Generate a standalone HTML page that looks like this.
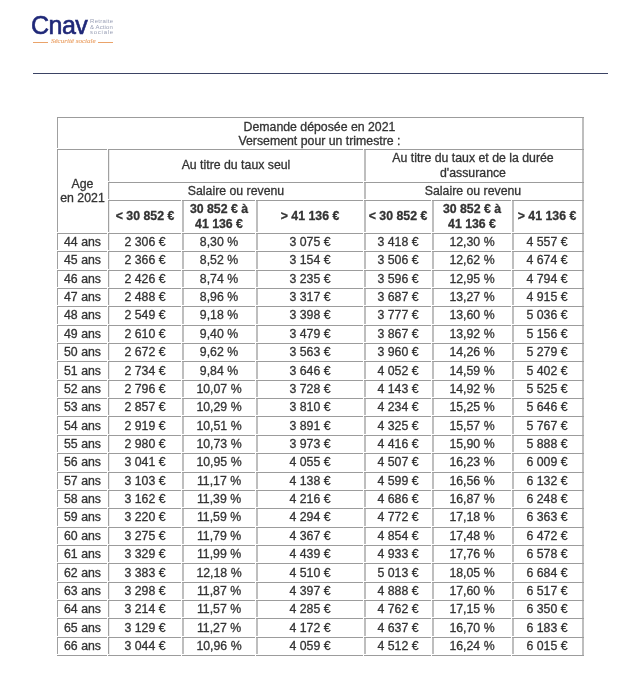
<!DOCTYPE html>
<html><head><meta charset="utf-8"><style>
html,body{margin:0;padding:0;background:#fff;}
body{width:642px;height:683px;position:relative;overflow:hidden;font-family:"Liberation Sans",sans-serif;}
.h{position:absolute;height:1px;background:#a4a4a4;}
.v{position:absolute;width:1px;background:#a4a4a4;}
.g{position:absolute;background:#fff;}
.t{position:absolute;text-align:center;white-space:nowrap;line-height:1.117;color:#333333;-webkit-text-stroke:0.3px #333333;}
.b{font-weight:bold;}
.logo{position:absolute;}
</style></head><body>
<div id="wrap" style="position:absolute;left:0;top:0;width:642px;height:683px;will-change:transform">
<div class="logo" style="left:31px;top:12.5px;font-size:25px;color:#1f2878;letter-spacing:-0.5px;line-height:1;-webkit-text-stroke:0.6px #1f2878">Cnav</div>
<div style="position:absolute;left:90px;top:19.3px;font-size:6px;line-height:5.5px;color:#9aa0b6;letter-spacing:0.3px">Retraite<br><span style="letter-spacing:0.1px">&amp; Action</span><br><span style="letter-spacing:0.75px">sociale</span></div>
<div style="position:absolute;left:33px;top:42px;width:15px;height:1px;background:#eaa36a"></div>
<div style="position:absolute;left:98px;top:42px;width:15px;height:1px;background:#eaa36a"></div>
<div style="position:absolute;left:51px;top:38px;font-family:'Liberation Serif',serif;font-style:italic;font-size:7px;color:#eaa36a;line-height:1;-webkit-text-stroke:0.15px #eaa36a">Sécurité sociale</div>
<div style="position:absolute;left:33px;top:73px;width:575px;height:1px;background:#3b4364"></div>
<div class="v" style="left:57px;top:117px;width:1px;height:539px;background:#a0a0a0"></div>
<div class="v" style="left:582px;top:117px;width:2px;height:539px;background:#bebebe"></div>
<div class="v" style="left:108px;top:149px;width:1px;height:507px;background:#a0a0a0"></div>
<div class="v" style="left:109px;top:149px;width:1px;height:507px;background:#ececec"></div>
<div class="v" style="left:364px;top:149px;width:2px;height:507px;background:#bebebe"></div>
<div class="v" style="left:182px;top:200px;width:2px;height:456px;background:#bebebe"></div>
<div class="v" style="left:256px;top:200px;width:2px;height:456px;background:#bebebe"></div>
<div class="v" style="left:432px;top:200px;width:2px;height:456px;background:#bebebe"></div>
<div class="v" style="left:512px;top:200px;width:2px;height:456px;background:#bebebe"></div>
<div class="h" style="left:57px;top:117px;width:527px;background:#9c9c9c"></div>
<div class="h" style="left:57px;top:149px;width:527px;background:#9c9c9c"></div>
<div class="h" style="left:108px;top:182px;width:476px;background:#9c9c9c"></div>
<div class="h" style="left:108px;top:200px;width:476px;background:#9c9c9c"></div>
<div class="h" style="left:57px;top:233px;width:527px;background:#9c9c9c"></div>
<div class="h" style="left:57px;top:251px;width:527px;background:#9c9c9c"></div>
<div class="h" style="left:57px;top:270px;width:527px;background:#9c9c9c"></div>
<div class="h" style="left:57px;top:288px;width:527px;background:#9c9c9c"></div>
<div class="h" style="left:57px;top:306px;width:527px;background:#9c9c9c"></div>
<div class="h" style="left:57px;top:325px;width:527px;background:#9c9c9c"></div>
<div class="h" style="left:57px;top:343px;width:527px;background:#9c9c9c"></div>
<div class="h" style="left:57px;top:361px;width:527px;background:#9c9c9c"></div>
<div class="h" style="left:57px;top:380px;width:527px;background:#9c9c9c"></div>
<div class="h" style="left:57px;top:398px;width:527px;background:#9c9c9c"></div>
<div class="h" style="left:57px;top:416px;width:527px;background:#9c9c9c"></div>
<div class="h" style="left:57px;top:435px;width:527px;background:#9c9c9c"></div>
<div class="h" style="left:57px;top:453px;width:527px;background:#9c9c9c"></div>
<div class="h" style="left:57px;top:472px;width:527px;background:#9c9c9c"></div>
<div class="h" style="left:57px;top:490px;width:527px;background:#9c9c9c"></div>
<div class="h" style="left:57px;top:508px;width:527px;background:#9c9c9c"></div>
<div class="h" style="left:57px;top:527px;width:527px;background:#9c9c9c"></div>
<div class="h" style="left:57px;top:545px;width:527px;background:#9c9c9c"></div>
<div class="h" style="left:57px;top:563px;width:527px;background:#9c9c9c"></div>
<div class="h" style="left:57px;top:582px;width:527px;background:#9c9c9c"></div>
<div class="h" style="left:57px;top:600px;width:527px;background:#9c9c9c"></div>
<div class="h" style="left:57px;top:618px;width:527px;background:#9c9c9c"></div>
<div class="h" style="left:57px;top:637px;width:527px;background:#9c9c9c"></div>
<div class="h" style="left:57px;top:655px;width:527px;background:#9c9c9c"></div>
<div class="g" style="left:57px;top:148px;width:1px;height:1px"></div>
<div class="g" style="left:107px;top:149px;width:1px;height:1px"></div>
<div class="g" style="left:363px;top:149px;width:1px;height:1px"></div>
<div class="g" style="left:108px;top:181px;width:1px;height:1px"></div>
<div class="g" style="left:363px;top:182px;width:1px;height:1px"></div>
<div class="g" style="left:364px;top:181px;width:2px;height:1px"></div>
<div class="g" style="left:108px;top:199px;width:1px;height:1px"></div>
<div class="g" style="left:363px;top:200px;width:1px;height:1px"></div>
<div class="g" style="left:364px;top:199px;width:2px;height:1px"></div>
<div class="g" style="left:181px;top:200px;width:1px;height:1px"></div>
<div class="g" style="left:255px;top:200px;width:1px;height:1px"></div>
<div class="g" style="left:431px;top:200px;width:1px;height:1px"></div>
<div class="g" style="left:511px;top:200px;width:1px;height:1px"></div>
<div class="g" style="left:57px;top:232px;width:1px;height:1px"></div>
<div class="g" style="left:107px;top:233px;width:1px;height:1px"></div>
<div class="g" style="left:108px;top:232px;width:1px;height:1px"></div>
<div class="g" style="left:363px;top:233px;width:1px;height:1px"></div>
<div class="g" style="left:364px;top:232px;width:2px;height:1px"></div>
<div class="g" style="left:181px;top:233px;width:1px;height:1px"></div>
<div class="g" style="left:182px;top:232px;width:2px;height:1px"></div>
<div class="g" style="left:255px;top:233px;width:1px;height:1px"></div>
<div class="g" style="left:256px;top:232px;width:2px;height:1px"></div>
<div class="g" style="left:431px;top:233px;width:1px;height:1px"></div>
<div class="g" style="left:432px;top:232px;width:2px;height:1px"></div>
<div class="g" style="left:511px;top:233px;width:1px;height:1px"></div>
<div class="g" style="left:512px;top:232px;width:2px;height:1px"></div>
<div class="g" style="left:57px;top:250px;width:1px;height:1px"></div>
<div class="g" style="left:107px;top:251px;width:1px;height:1px"></div>
<div class="g" style="left:108px;top:250px;width:1px;height:1px"></div>
<div class="g" style="left:363px;top:251px;width:1px;height:1px"></div>
<div class="g" style="left:364px;top:250px;width:2px;height:1px"></div>
<div class="g" style="left:181px;top:251px;width:1px;height:1px"></div>
<div class="g" style="left:182px;top:250px;width:2px;height:1px"></div>
<div class="g" style="left:255px;top:251px;width:1px;height:1px"></div>
<div class="g" style="left:256px;top:250px;width:2px;height:1px"></div>
<div class="g" style="left:431px;top:251px;width:1px;height:1px"></div>
<div class="g" style="left:432px;top:250px;width:2px;height:1px"></div>
<div class="g" style="left:511px;top:251px;width:1px;height:1px"></div>
<div class="g" style="left:512px;top:250px;width:2px;height:1px"></div>
<div class="g" style="left:57px;top:269px;width:1px;height:1px"></div>
<div class="g" style="left:107px;top:270px;width:1px;height:1px"></div>
<div class="g" style="left:108px;top:269px;width:1px;height:1px"></div>
<div class="g" style="left:363px;top:270px;width:1px;height:1px"></div>
<div class="g" style="left:364px;top:269px;width:2px;height:1px"></div>
<div class="g" style="left:181px;top:270px;width:1px;height:1px"></div>
<div class="g" style="left:182px;top:269px;width:2px;height:1px"></div>
<div class="g" style="left:255px;top:270px;width:1px;height:1px"></div>
<div class="g" style="left:256px;top:269px;width:2px;height:1px"></div>
<div class="g" style="left:431px;top:270px;width:1px;height:1px"></div>
<div class="g" style="left:432px;top:269px;width:2px;height:1px"></div>
<div class="g" style="left:511px;top:270px;width:1px;height:1px"></div>
<div class="g" style="left:512px;top:269px;width:2px;height:1px"></div>
<div class="g" style="left:57px;top:287px;width:1px;height:1px"></div>
<div class="g" style="left:107px;top:288px;width:1px;height:1px"></div>
<div class="g" style="left:108px;top:287px;width:1px;height:1px"></div>
<div class="g" style="left:363px;top:288px;width:1px;height:1px"></div>
<div class="g" style="left:364px;top:287px;width:2px;height:1px"></div>
<div class="g" style="left:181px;top:288px;width:1px;height:1px"></div>
<div class="g" style="left:182px;top:287px;width:2px;height:1px"></div>
<div class="g" style="left:255px;top:288px;width:1px;height:1px"></div>
<div class="g" style="left:256px;top:287px;width:2px;height:1px"></div>
<div class="g" style="left:431px;top:288px;width:1px;height:1px"></div>
<div class="g" style="left:432px;top:287px;width:2px;height:1px"></div>
<div class="g" style="left:511px;top:288px;width:1px;height:1px"></div>
<div class="g" style="left:512px;top:287px;width:2px;height:1px"></div>
<div class="g" style="left:57px;top:305px;width:1px;height:1px"></div>
<div class="g" style="left:107px;top:306px;width:1px;height:1px"></div>
<div class="g" style="left:108px;top:305px;width:1px;height:1px"></div>
<div class="g" style="left:363px;top:306px;width:1px;height:1px"></div>
<div class="g" style="left:364px;top:305px;width:2px;height:1px"></div>
<div class="g" style="left:181px;top:306px;width:1px;height:1px"></div>
<div class="g" style="left:182px;top:305px;width:2px;height:1px"></div>
<div class="g" style="left:255px;top:306px;width:1px;height:1px"></div>
<div class="g" style="left:256px;top:305px;width:2px;height:1px"></div>
<div class="g" style="left:431px;top:306px;width:1px;height:1px"></div>
<div class="g" style="left:432px;top:305px;width:2px;height:1px"></div>
<div class="g" style="left:511px;top:306px;width:1px;height:1px"></div>
<div class="g" style="left:512px;top:305px;width:2px;height:1px"></div>
<div class="g" style="left:57px;top:324px;width:1px;height:1px"></div>
<div class="g" style="left:107px;top:325px;width:1px;height:1px"></div>
<div class="g" style="left:108px;top:324px;width:1px;height:1px"></div>
<div class="g" style="left:363px;top:325px;width:1px;height:1px"></div>
<div class="g" style="left:364px;top:324px;width:2px;height:1px"></div>
<div class="g" style="left:181px;top:325px;width:1px;height:1px"></div>
<div class="g" style="left:182px;top:324px;width:2px;height:1px"></div>
<div class="g" style="left:255px;top:325px;width:1px;height:1px"></div>
<div class="g" style="left:256px;top:324px;width:2px;height:1px"></div>
<div class="g" style="left:431px;top:325px;width:1px;height:1px"></div>
<div class="g" style="left:432px;top:324px;width:2px;height:1px"></div>
<div class="g" style="left:511px;top:325px;width:1px;height:1px"></div>
<div class="g" style="left:512px;top:324px;width:2px;height:1px"></div>
<div class="g" style="left:57px;top:342px;width:1px;height:1px"></div>
<div class="g" style="left:107px;top:343px;width:1px;height:1px"></div>
<div class="g" style="left:108px;top:342px;width:1px;height:1px"></div>
<div class="g" style="left:363px;top:343px;width:1px;height:1px"></div>
<div class="g" style="left:364px;top:342px;width:2px;height:1px"></div>
<div class="g" style="left:181px;top:343px;width:1px;height:1px"></div>
<div class="g" style="left:182px;top:342px;width:2px;height:1px"></div>
<div class="g" style="left:255px;top:343px;width:1px;height:1px"></div>
<div class="g" style="left:256px;top:342px;width:2px;height:1px"></div>
<div class="g" style="left:431px;top:343px;width:1px;height:1px"></div>
<div class="g" style="left:432px;top:342px;width:2px;height:1px"></div>
<div class="g" style="left:511px;top:343px;width:1px;height:1px"></div>
<div class="g" style="left:512px;top:342px;width:2px;height:1px"></div>
<div class="g" style="left:57px;top:360px;width:1px;height:1px"></div>
<div class="g" style="left:107px;top:361px;width:1px;height:1px"></div>
<div class="g" style="left:108px;top:360px;width:1px;height:1px"></div>
<div class="g" style="left:363px;top:361px;width:1px;height:1px"></div>
<div class="g" style="left:364px;top:360px;width:2px;height:1px"></div>
<div class="g" style="left:181px;top:361px;width:1px;height:1px"></div>
<div class="g" style="left:182px;top:360px;width:2px;height:1px"></div>
<div class="g" style="left:255px;top:361px;width:1px;height:1px"></div>
<div class="g" style="left:256px;top:360px;width:2px;height:1px"></div>
<div class="g" style="left:431px;top:361px;width:1px;height:1px"></div>
<div class="g" style="left:432px;top:360px;width:2px;height:1px"></div>
<div class="g" style="left:511px;top:361px;width:1px;height:1px"></div>
<div class="g" style="left:512px;top:360px;width:2px;height:1px"></div>
<div class="g" style="left:57px;top:379px;width:1px;height:1px"></div>
<div class="g" style="left:107px;top:380px;width:1px;height:1px"></div>
<div class="g" style="left:108px;top:379px;width:1px;height:1px"></div>
<div class="g" style="left:363px;top:380px;width:1px;height:1px"></div>
<div class="g" style="left:364px;top:379px;width:2px;height:1px"></div>
<div class="g" style="left:181px;top:380px;width:1px;height:1px"></div>
<div class="g" style="left:182px;top:379px;width:2px;height:1px"></div>
<div class="g" style="left:255px;top:380px;width:1px;height:1px"></div>
<div class="g" style="left:256px;top:379px;width:2px;height:1px"></div>
<div class="g" style="left:431px;top:380px;width:1px;height:1px"></div>
<div class="g" style="left:432px;top:379px;width:2px;height:1px"></div>
<div class="g" style="left:511px;top:380px;width:1px;height:1px"></div>
<div class="g" style="left:512px;top:379px;width:2px;height:1px"></div>
<div class="g" style="left:57px;top:397px;width:1px;height:1px"></div>
<div class="g" style="left:107px;top:398px;width:1px;height:1px"></div>
<div class="g" style="left:108px;top:397px;width:1px;height:1px"></div>
<div class="g" style="left:363px;top:398px;width:1px;height:1px"></div>
<div class="g" style="left:364px;top:397px;width:2px;height:1px"></div>
<div class="g" style="left:181px;top:398px;width:1px;height:1px"></div>
<div class="g" style="left:182px;top:397px;width:2px;height:1px"></div>
<div class="g" style="left:255px;top:398px;width:1px;height:1px"></div>
<div class="g" style="left:256px;top:397px;width:2px;height:1px"></div>
<div class="g" style="left:431px;top:398px;width:1px;height:1px"></div>
<div class="g" style="left:432px;top:397px;width:2px;height:1px"></div>
<div class="g" style="left:511px;top:398px;width:1px;height:1px"></div>
<div class="g" style="left:512px;top:397px;width:2px;height:1px"></div>
<div class="g" style="left:57px;top:415px;width:1px;height:1px"></div>
<div class="g" style="left:107px;top:416px;width:1px;height:1px"></div>
<div class="g" style="left:108px;top:415px;width:1px;height:1px"></div>
<div class="g" style="left:363px;top:416px;width:1px;height:1px"></div>
<div class="g" style="left:364px;top:415px;width:2px;height:1px"></div>
<div class="g" style="left:181px;top:416px;width:1px;height:1px"></div>
<div class="g" style="left:182px;top:415px;width:2px;height:1px"></div>
<div class="g" style="left:255px;top:416px;width:1px;height:1px"></div>
<div class="g" style="left:256px;top:415px;width:2px;height:1px"></div>
<div class="g" style="left:431px;top:416px;width:1px;height:1px"></div>
<div class="g" style="left:432px;top:415px;width:2px;height:1px"></div>
<div class="g" style="left:511px;top:416px;width:1px;height:1px"></div>
<div class="g" style="left:512px;top:415px;width:2px;height:1px"></div>
<div class="g" style="left:57px;top:434px;width:1px;height:1px"></div>
<div class="g" style="left:107px;top:435px;width:1px;height:1px"></div>
<div class="g" style="left:108px;top:434px;width:1px;height:1px"></div>
<div class="g" style="left:363px;top:435px;width:1px;height:1px"></div>
<div class="g" style="left:364px;top:434px;width:2px;height:1px"></div>
<div class="g" style="left:181px;top:435px;width:1px;height:1px"></div>
<div class="g" style="left:182px;top:434px;width:2px;height:1px"></div>
<div class="g" style="left:255px;top:435px;width:1px;height:1px"></div>
<div class="g" style="left:256px;top:434px;width:2px;height:1px"></div>
<div class="g" style="left:431px;top:435px;width:1px;height:1px"></div>
<div class="g" style="left:432px;top:434px;width:2px;height:1px"></div>
<div class="g" style="left:511px;top:435px;width:1px;height:1px"></div>
<div class="g" style="left:512px;top:434px;width:2px;height:1px"></div>
<div class="g" style="left:57px;top:452px;width:1px;height:1px"></div>
<div class="g" style="left:107px;top:453px;width:1px;height:1px"></div>
<div class="g" style="left:108px;top:452px;width:1px;height:1px"></div>
<div class="g" style="left:363px;top:453px;width:1px;height:1px"></div>
<div class="g" style="left:364px;top:452px;width:2px;height:1px"></div>
<div class="g" style="left:181px;top:453px;width:1px;height:1px"></div>
<div class="g" style="left:182px;top:452px;width:2px;height:1px"></div>
<div class="g" style="left:255px;top:453px;width:1px;height:1px"></div>
<div class="g" style="left:256px;top:452px;width:2px;height:1px"></div>
<div class="g" style="left:431px;top:453px;width:1px;height:1px"></div>
<div class="g" style="left:432px;top:452px;width:2px;height:1px"></div>
<div class="g" style="left:511px;top:453px;width:1px;height:1px"></div>
<div class="g" style="left:512px;top:452px;width:2px;height:1px"></div>
<div class="g" style="left:57px;top:471px;width:1px;height:1px"></div>
<div class="g" style="left:107px;top:472px;width:1px;height:1px"></div>
<div class="g" style="left:108px;top:471px;width:1px;height:1px"></div>
<div class="g" style="left:363px;top:472px;width:1px;height:1px"></div>
<div class="g" style="left:364px;top:471px;width:2px;height:1px"></div>
<div class="g" style="left:181px;top:472px;width:1px;height:1px"></div>
<div class="g" style="left:182px;top:471px;width:2px;height:1px"></div>
<div class="g" style="left:255px;top:472px;width:1px;height:1px"></div>
<div class="g" style="left:256px;top:471px;width:2px;height:1px"></div>
<div class="g" style="left:431px;top:472px;width:1px;height:1px"></div>
<div class="g" style="left:432px;top:471px;width:2px;height:1px"></div>
<div class="g" style="left:511px;top:472px;width:1px;height:1px"></div>
<div class="g" style="left:512px;top:471px;width:2px;height:1px"></div>
<div class="g" style="left:57px;top:489px;width:1px;height:1px"></div>
<div class="g" style="left:107px;top:490px;width:1px;height:1px"></div>
<div class="g" style="left:108px;top:489px;width:1px;height:1px"></div>
<div class="g" style="left:363px;top:490px;width:1px;height:1px"></div>
<div class="g" style="left:364px;top:489px;width:2px;height:1px"></div>
<div class="g" style="left:181px;top:490px;width:1px;height:1px"></div>
<div class="g" style="left:182px;top:489px;width:2px;height:1px"></div>
<div class="g" style="left:255px;top:490px;width:1px;height:1px"></div>
<div class="g" style="left:256px;top:489px;width:2px;height:1px"></div>
<div class="g" style="left:431px;top:490px;width:1px;height:1px"></div>
<div class="g" style="left:432px;top:489px;width:2px;height:1px"></div>
<div class="g" style="left:511px;top:490px;width:1px;height:1px"></div>
<div class="g" style="left:512px;top:489px;width:2px;height:1px"></div>
<div class="g" style="left:57px;top:507px;width:1px;height:1px"></div>
<div class="g" style="left:107px;top:508px;width:1px;height:1px"></div>
<div class="g" style="left:108px;top:507px;width:1px;height:1px"></div>
<div class="g" style="left:363px;top:508px;width:1px;height:1px"></div>
<div class="g" style="left:364px;top:507px;width:2px;height:1px"></div>
<div class="g" style="left:181px;top:508px;width:1px;height:1px"></div>
<div class="g" style="left:182px;top:507px;width:2px;height:1px"></div>
<div class="g" style="left:255px;top:508px;width:1px;height:1px"></div>
<div class="g" style="left:256px;top:507px;width:2px;height:1px"></div>
<div class="g" style="left:431px;top:508px;width:1px;height:1px"></div>
<div class="g" style="left:432px;top:507px;width:2px;height:1px"></div>
<div class="g" style="left:511px;top:508px;width:1px;height:1px"></div>
<div class="g" style="left:512px;top:507px;width:2px;height:1px"></div>
<div class="g" style="left:57px;top:526px;width:1px;height:1px"></div>
<div class="g" style="left:107px;top:527px;width:1px;height:1px"></div>
<div class="g" style="left:108px;top:526px;width:1px;height:1px"></div>
<div class="g" style="left:363px;top:527px;width:1px;height:1px"></div>
<div class="g" style="left:364px;top:526px;width:2px;height:1px"></div>
<div class="g" style="left:181px;top:527px;width:1px;height:1px"></div>
<div class="g" style="left:182px;top:526px;width:2px;height:1px"></div>
<div class="g" style="left:255px;top:527px;width:1px;height:1px"></div>
<div class="g" style="left:256px;top:526px;width:2px;height:1px"></div>
<div class="g" style="left:431px;top:527px;width:1px;height:1px"></div>
<div class="g" style="left:432px;top:526px;width:2px;height:1px"></div>
<div class="g" style="left:511px;top:527px;width:1px;height:1px"></div>
<div class="g" style="left:512px;top:526px;width:2px;height:1px"></div>
<div class="g" style="left:57px;top:544px;width:1px;height:1px"></div>
<div class="g" style="left:107px;top:545px;width:1px;height:1px"></div>
<div class="g" style="left:108px;top:544px;width:1px;height:1px"></div>
<div class="g" style="left:363px;top:545px;width:1px;height:1px"></div>
<div class="g" style="left:364px;top:544px;width:2px;height:1px"></div>
<div class="g" style="left:181px;top:545px;width:1px;height:1px"></div>
<div class="g" style="left:182px;top:544px;width:2px;height:1px"></div>
<div class="g" style="left:255px;top:545px;width:1px;height:1px"></div>
<div class="g" style="left:256px;top:544px;width:2px;height:1px"></div>
<div class="g" style="left:431px;top:545px;width:1px;height:1px"></div>
<div class="g" style="left:432px;top:544px;width:2px;height:1px"></div>
<div class="g" style="left:511px;top:545px;width:1px;height:1px"></div>
<div class="g" style="left:512px;top:544px;width:2px;height:1px"></div>
<div class="g" style="left:57px;top:562px;width:1px;height:1px"></div>
<div class="g" style="left:107px;top:563px;width:1px;height:1px"></div>
<div class="g" style="left:108px;top:562px;width:1px;height:1px"></div>
<div class="g" style="left:363px;top:563px;width:1px;height:1px"></div>
<div class="g" style="left:364px;top:562px;width:2px;height:1px"></div>
<div class="g" style="left:181px;top:563px;width:1px;height:1px"></div>
<div class="g" style="left:182px;top:562px;width:2px;height:1px"></div>
<div class="g" style="left:255px;top:563px;width:1px;height:1px"></div>
<div class="g" style="left:256px;top:562px;width:2px;height:1px"></div>
<div class="g" style="left:431px;top:563px;width:1px;height:1px"></div>
<div class="g" style="left:432px;top:562px;width:2px;height:1px"></div>
<div class="g" style="left:511px;top:563px;width:1px;height:1px"></div>
<div class="g" style="left:512px;top:562px;width:2px;height:1px"></div>
<div class="g" style="left:57px;top:581px;width:1px;height:1px"></div>
<div class="g" style="left:107px;top:582px;width:1px;height:1px"></div>
<div class="g" style="left:108px;top:581px;width:1px;height:1px"></div>
<div class="g" style="left:363px;top:582px;width:1px;height:1px"></div>
<div class="g" style="left:364px;top:581px;width:2px;height:1px"></div>
<div class="g" style="left:181px;top:582px;width:1px;height:1px"></div>
<div class="g" style="left:182px;top:581px;width:2px;height:1px"></div>
<div class="g" style="left:255px;top:582px;width:1px;height:1px"></div>
<div class="g" style="left:256px;top:581px;width:2px;height:1px"></div>
<div class="g" style="left:431px;top:582px;width:1px;height:1px"></div>
<div class="g" style="left:432px;top:581px;width:2px;height:1px"></div>
<div class="g" style="left:511px;top:582px;width:1px;height:1px"></div>
<div class="g" style="left:512px;top:581px;width:2px;height:1px"></div>
<div class="g" style="left:57px;top:599px;width:1px;height:1px"></div>
<div class="g" style="left:107px;top:600px;width:1px;height:1px"></div>
<div class="g" style="left:108px;top:599px;width:1px;height:1px"></div>
<div class="g" style="left:363px;top:600px;width:1px;height:1px"></div>
<div class="g" style="left:364px;top:599px;width:2px;height:1px"></div>
<div class="g" style="left:181px;top:600px;width:1px;height:1px"></div>
<div class="g" style="left:182px;top:599px;width:2px;height:1px"></div>
<div class="g" style="left:255px;top:600px;width:1px;height:1px"></div>
<div class="g" style="left:256px;top:599px;width:2px;height:1px"></div>
<div class="g" style="left:431px;top:600px;width:1px;height:1px"></div>
<div class="g" style="left:432px;top:599px;width:2px;height:1px"></div>
<div class="g" style="left:511px;top:600px;width:1px;height:1px"></div>
<div class="g" style="left:512px;top:599px;width:2px;height:1px"></div>
<div class="g" style="left:57px;top:617px;width:1px;height:1px"></div>
<div class="g" style="left:107px;top:618px;width:1px;height:1px"></div>
<div class="g" style="left:108px;top:617px;width:1px;height:1px"></div>
<div class="g" style="left:363px;top:618px;width:1px;height:1px"></div>
<div class="g" style="left:364px;top:617px;width:2px;height:1px"></div>
<div class="g" style="left:181px;top:618px;width:1px;height:1px"></div>
<div class="g" style="left:182px;top:617px;width:2px;height:1px"></div>
<div class="g" style="left:255px;top:618px;width:1px;height:1px"></div>
<div class="g" style="left:256px;top:617px;width:2px;height:1px"></div>
<div class="g" style="left:431px;top:618px;width:1px;height:1px"></div>
<div class="g" style="left:432px;top:617px;width:2px;height:1px"></div>
<div class="g" style="left:511px;top:618px;width:1px;height:1px"></div>
<div class="g" style="left:512px;top:617px;width:2px;height:1px"></div>
<div class="g" style="left:57px;top:636px;width:1px;height:1px"></div>
<div class="g" style="left:107px;top:637px;width:1px;height:1px"></div>
<div class="g" style="left:108px;top:636px;width:1px;height:1px"></div>
<div class="g" style="left:363px;top:637px;width:1px;height:1px"></div>
<div class="g" style="left:364px;top:636px;width:2px;height:1px"></div>
<div class="g" style="left:181px;top:637px;width:1px;height:1px"></div>
<div class="g" style="left:182px;top:636px;width:2px;height:1px"></div>
<div class="g" style="left:255px;top:637px;width:1px;height:1px"></div>
<div class="g" style="left:256px;top:636px;width:2px;height:1px"></div>
<div class="g" style="left:431px;top:637px;width:1px;height:1px"></div>
<div class="g" style="left:432px;top:636px;width:2px;height:1px"></div>
<div class="g" style="left:511px;top:637px;width:1px;height:1px"></div>
<div class="g" style="left:512px;top:636px;width:2px;height:1px"></div>
<div class="g" style="left:57px;top:654px;width:1px;height:1px"></div>
<div class="g" style="left:107px;top:655px;width:1px;height:1px"></div>
<div class="g" style="left:108px;top:654px;width:1px;height:1px"></div>
<div class="g" style="left:363px;top:655px;width:1px;height:1px"></div>
<div class="g" style="left:364px;top:654px;width:2px;height:1px"></div>
<div class="g" style="left:181px;top:655px;width:1px;height:1px"></div>
<div class="g" style="left:182px;top:654px;width:2px;height:1px"></div>
<div class="g" style="left:255px;top:655px;width:1px;height:1px"></div>
<div class="g" style="left:256px;top:654px;width:2px;height:1px"></div>
<div class="g" style="left:431px;top:655px;width:1px;height:1px"></div>
<div class="g" style="left:432px;top:654px;width:2px;height:1px"></div>
<div class="g" style="left:511px;top:655px;width:1px;height:1px"></div>
<div class="g" style="left:512px;top:654px;width:2px;height:1px"></div>
<div class="t" style="left:169.50px;top:120.87px;width:300px;font-size:12.3px">Demande déposée en 2021</div>
<div class="t" style="left:169.50px;top:134.87px;width:300px;font-size:12.3px">Versement pour un trimestre :</div>
<div class="t" style="left:86.00px;top:158.57px;width:300px;font-size:12.3px">Au titre du taux seul</div>
<div class="t" style="left:323.00px;top:151.67px;width:300px;font-size:12.3px">Au titre du taux et de la durée</div>
<div class="t" style="left:323.00px;top:166.67px;width:300px;font-size:12.3px">d'assurance</div>
<div class="t" style="left:86.00px;top:185.37px;width:300px;font-size:12.3px">Salaire ou revenu</div>
<div class="t" style="left:323.00px;top:185.37px;width:300px;font-size:12.3px">Salaire ou revenu</div>
<div class="t" style="left:-67.50px;top:178.37px;width:300px;font-size:12.3px">Age</div>
<div class="t" style="left:-67.50px;top:191.77px;width:300px;font-size:12.3px">en 2021</div>
<div class="t b" style="left:-5.00px;top:209.57px;width:300px;font-size:12.3px">&lt; 30 852 €</div>
<div class="t b" style="left:69.00px;top:202.87px;width:300px;font-size:12.3px">30 852 € à</div>
<div class="t b" style="left:69.00px;top:217.67px;width:300px;font-size:12.3px">41 136 €</div>
<div class="t b" style="left:160.00px;top:209.57px;width:300px;font-size:12.3px">&gt; 41 136 €</div>
<div class="t b" style="left:248.00px;top:209.57px;width:300px;font-size:12.3px">&lt; 30 852 €</div>
<div class="t b" style="left:322.00px;top:202.87px;width:300px;font-size:12.3px">30 852 € à</div>
<div class="t b" style="left:322.00px;top:217.67px;width:300px;font-size:12.3px">41 136 €</div>
<div class="t b" style="left:397.00px;top:209.57px;width:300px;font-size:12.3px">&gt; 41 136 €</div>
<div class="t" style="left:-67.50px;top:235.97px;width:300px;font-size:12.3px">44 ans</div>
<div class="t" style="left:-5.00px;top:235.97px;width:300px;font-size:12.3px">2 306 €</div>
<div class="t" style="left:69.00px;top:235.97px;width:300px;font-size:12.3px">8,30 %</div>
<div class="t" style="left:160.00px;top:235.97px;width:300px;font-size:12.3px">3 075 €</div>
<div class="t" style="left:248.00px;top:235.97px;width:300px;font-size:12.3px">3 418 €</div>
<div class="t" style="left:322.00px;top:235.97px;width:300px;font-size:12.3px">12,30 %</div>
<div class="t" style="left:397.00px;top:235.97px;width:300px;font-size:12.3px">4 557 €</div>
<div class="t" style="left:-67.50px;top:254.33px;width:300px;font-size:12.3px">45 ans</div>
<div class="t" style="left:-5.00px;top:254.33px;width:300px;font-size:12.3px">2 366 €</div>
<div class="t" style="left:69.00px;top:254.33px;width:300px;font-size:12.3px">8,52 %</div>
<div class="t" style="left:160.00px;top:254.33px;width:300px;font-size:12.3px">3 154 €</div>
<div class="t" style="left:248.00px;top:254.33px;width:300px;font-size:12.3px">3 506 €</div>
<div class="t" style="left:322.00px;top:254.33px;width:300px;font-size:12.3px">12,62 %</div>
<div class="t" style="left:397.00px;top:254.33px;width:300px;font-size:12.3px">4 674 €</div>
<div class="t" style="left:-67.50px;top:272.70px;width:300px;font-size:12.3px">46 ans</div>
<div class="t" style="left:-5.00px;top:272.70px;width:300px;font-size:12.3px">2 426 €</div>
<div class="t" style="left:69.00px;top:272.70px;width:300px;font-size:12.3px">8,74 %</div>
<div class="t" style="left:160.00px;top:272.70px;width:300px;font-size:12.3px">3 235 €</div>
<div class="t" style="left:248.00px;top:272.70px;width:300px;font-size:12.3px">3 596 €</div>
<div class="t" style="left:322.00px;top:272.70px;width:300px;font-size:12.3px">12,95 %</div>
<div class="t" style="left:397.00px;top:272.70px;width:300px;font-size:12.3px">4 794 €</div>
<div class="t" style="left:-67.50px;top:291.06px;width:300px;font-size:12.3px">47 ans</div>
<div class="t" style="left:-5.00px;top:291.06px;width:300px;font-size:12.3px">2 488 €</div>
<div class="t" style="left:69.00px;top:291.06px;width:300px;font-size:12.3px">8,96 %</div>
<div class="t" style="left:160.00px;top:291.06px;width:300px;font-size:12.3px">3 317 €</div>
<div class="t" style="left:248.00px;top:291.06px;width:300px;font-size:12.3px">3 687 €</div>
<div class="t" style="left:322.00px;top:291.06px;width:300px;font-size:12.3px">13,27 %</div>
<div class="t" style="left:397.00px;top:291.06px;width:300px;font-size:12.3px">4 915 €</div>
<div class="t" style="left:-67.50px;top:309.42px;width:300px;font-size:12.3px">48 ans</div>
<div class="t" style="left:-5.00px;top:309.42px;width:300px;font-size:12.3px">2 549 €</div>
<div class="t" style="left:69.00px;top:309.42px;width:300px;font-size:12.3px">9,18 %</div>
<div class="t" style="left:160.00px;top:309.42px;width:300px;font-size:12.3px">3 398 €</div>
<div class="t" style="left:248.00px;top:309.42px;width:300px;font-size:12.3px">3 777 €</div>
<div class="t" style="left:322.00px;top:309.42px;width:300px;font-size:12.3px">13,60 %</div>
<div class="t" style="left:397.00px;top:309.42px;width:300px;font-size:12.3px">5 036 €</div>
<div class="t" style="left:-67.50px;top:327.79px;width:300px;font-size:12.3px">49 ans</div>
<div class="t" style="left:-5.00px;top:327.79px;width:300px;font-size:12.3px">2 610 €</div>
<div class="t" style="left:69.00px;top:327.79px;width:300px;font-size:12.3px">9,40 %</div>
<div class="t" style="left:160.00px;top:327.79px;width:300px;font-size:12.3px">3 479 €</div>
<div class="t" style="left:248.00px;top:327.79px;width:300px;font-size:12.3px">3 867 €</div>
<div class="t" style="left:322.00px;top:327.79px;width:300px;font-size:12.3px">13,92 %</div>
<div class="t" style="left:397.00px;top:327.79px;width:300px;font-size:12.3px">5 156 €</div>
<div class="t" style="left:-67.50px;top:346.15px;width:300px;font-size:12.3px">50 ans</div>
<div class="t" style="left:-5.00px;top:346.15px;width:300px;font-size:12.3px">2 672 €</div>
<div class="t" style="left:69.00px;top:346.15px;width:300px;font-size:12.3px">9,62 %</div>
<div class="t" style="left:160.00px;top:346.15px;width:300px;font-size:12.3px">3 563 €</div>
<div class="t" style="left:248.00px;top:346.15px;width:300px;font-size:12.3px">3 960 €</div>
<div class="t" style="left:322.00px;top:346.15px;width:300px;font-size:12.3px">14,26 %</div>
<div class="t" style="left:397.00px;top:346.15px;width:300px;font-size:12.3px">5 279 €</div>
<div class="t" style="left:-67.50px;top:364.52px;width:300px;font-size:12.3px">51 ans</div>
<div class="t" style="left:-5.00px;top:364.52px;width:300px;font-size:12.3px">2 734 €</div>
<div class="t" style="left:69.00px;top:364.52px;width:300px;font-size:12.3px">9,84 %</div>
<div class="t" style="left:160.00px;top:364.52px;width:300px;font-size:12.3px">3 646 €</div>
<div class="t" style="left:248.00px;top:364.52px;width:300px;font-size:12.3px">4 052 €</div>
<div class="t" style="left:322.00px;top:364.52px;width:300px;font-size:12.3px">14,59 %</div>
<div class="t" style="left:397.00px;top:364.52px;width:300px;font-size:12.3px">5 402 €</div>
<div class="t" style="left:-67.50px;top:382.88px;width:300px;font-size:12.3px">52 ans</div>
<div class="t" style="left:-5.00px;top:382.88px;width:300px;font-size:12.3px">2 796 €</div>
<div class="t" style="left:69.00px;top:382.88px;width:300px;font-size:12.3px">10,07 %</div>
<div class="t" style="left:160.00px;top:382.88px;width:300px;font-size:12.3px">3 728 €</div>
<div class="t" style="left:248.00px;top:382.88px;width:300px;font-size:12.3px">4 143 €</div>
<div class="t" style="left:322.00px;top:382.88px;width:300px;font-size:12.3px">14,92 %</div>
<div class="t" style="left:397.00px;top:382.88px;width:300px;font-size:12.3px">5 525 €</div>
<div class="t" style="left:-67.50px;top:401.24px;width:300px;font-size:12.3px">53 ans</div>
<div class="t" style="left:-5.00px;top:401.24px;width:300px;font-size:12.3px">2 857 €</div>
<div class="t" style="left:69.00px;top:401.24px;width:300px;font-size:12.3px">10,29 %</div>
<div class="t" style="left:160.00px;top:401.24px;width:300px;font-size:12.3px">3 810 €</div>
<div class="t" style="left:248.00px;top:401.24px;width:300px;font-size:12.3px">4 234 €</div>
<div class="t" style="left:322.00px;top:401.24px;width:300px;font-size:12.3px">15,25 %</div>
<div class="t" style="left:397.00px;top:401.24px;width:300px;font-size:12.3px">5 646 €</div>
<div class="t" style="left:-67.50px;top:419.61px;width:300px;font-size:12.3px">54 ans</div>
<div class="t" style="left:-5.00px;top:419.61px;width:300px;font-size:12.3px">2 919 €</div>
<div class="t" style="left:69.00px;top:419.61px;width:300px;font-size:12.3px">10,51 %</div>
<div class="t" style="left:160.00px;top:419.61px;width:300px;font-size:12.3px">3 891 €</div>
<div class="t" style="left:248.00px;top:419.61px;width:300px;font-size:12.3px">4 325 €</div>
<div class="t" style="left:322.00px;top:419.61px;width:300px;font-size:12.3px">15,57 %</div>
<div class="t" style="left:397.00px;top:419.61px;width:300px;font-size:12.3px">5 767 €</div>
<div class="t" style="left:-67.50px;top:437.97px;width:300px;font-size:12.3px">55 ans</div>
<div class="t" style="left:-5.00px;top:437.97px;width:300px;font-size:12.3px">2 980 €</div>
<div class="t" style="left:69.00px;top:437.97px;width:300px;font-size:12.3px">10,73 %</div>
<div class="t" style="left:160.00px;top:437.97px;width:300px;font-size:12.3px">3 973 €</div>
<div class="t" style="left:248.00px;top:437.97px;width:300px;font-size:12.3px">4 416 €</div>
<div class="t" style="left:322.00px;top:437.97px;width:300px;font-size:12.3px">15,90 %</div>
<div class="t" style="left:397.00px;top:437.97px;width:300px;font-size:12.3px">5 888 €</div>
<div class="t" style="left:-67.50px;top:456.34px;width:300px;font-size:12.3px">56 ans</div>
<div class="t" style="left:-5.00px;top:456.34px;width:300px;font-size:12.3px">3 041 €</div>
<div class="t" style="left:69.00px;top:456.34px;width:300px;font-size:12.3px">10,95 %</div>
<div class="t" style="left:160.00px;top:456.34px;width:300px;font-size:12.3px">4 055 €</div>
<div class="t" style="left:248.00px;top:456.34px;width:300px;font-size:12.3px">4 507 €</div>
<div class="t" style="left:322.00px;top:456.34px;width:300px;font-size:12.3px">16,23 %</div>
<div class="t" style="left:397.00px;top:456.34px;width:300px;font-size:12.3px">6 009 €</div>
<div class="t" style="left:-67.50px;top:474.70px;width:300px;font-size:12.3px">57 ans</div>
<div class="t" style="left:-5.00px;top:474.70px;width:300px;font-size:12.3px">3 103 €</div>
<div class="t" style="left:69.00px;top:474.70px;width:300px;font-size:12.3px">11,17 %</div>
<div class="t" style="left:160.00px;top:474.70px;width:300px;font-size:12.3px">4 138 €</div>
<div class="t" style="left:248.00px;top:474.70px;width:300px;font-size:12.3px">4 599 €</div>
<div class="t" style="left:322.00px;top:474.70px;width:300px;font-size:12.3px">16,56 %</div>
<div class="t" style="left:397.00px;top:474.70px;width:300px;font-size:12.3px">6 132 €</div>
<div class="t" style="left:-67.50px;top:493.06px;width:300px;font-size:12.3px">58 ans</div>
<div class="t" style="left:-5.00px;top:493.06px;width:300px;font-size:12.3px">3 162 €</div>
<div class="t" style="left:69.00px;top:493.06px;width:300px;font-size:12.3px">11,39 %</div>
<div class="t" style="left:160.00px;top:493.06px;width:300px;font-size:12.3px">4 216 €</div>
<div class="t" style="left:248.00px;top:493.06px;width:300px;font-size:12.3px">4 686 €</div>
<div class="t" style="left:322.00px;top:493.06px;width:300px;font-size:12.3px">16,87 %</div>
<div class="t" style="left:397.00px;top:493.06px;width:300px;font-size:12.3px">6 248 €</div>
<div class="t" style="left:-67.50px;top:511.43px;width:300px;font-size:12.3px">59 ans</div>
<div class="t" style="left:-5.00px;top:511.43px;width:300px;font-size:12.3px">3 220 €</div>
<div class="t" style="left:69.00px;top:511.43px;width:300px;font-size:12.3px">11,59 %</div>
<div class="t" style="left:160.00px;top:511.43px;width:300px;font-size:12.3px">4 294 €</div>
<div class="t" style="left:248.00px;top:511.43px;width:300px;font-size:12.3px">4 772 €</div>
<div class="t" style="left:322.00px;top:511.43px;width:300px;font-size:12.3px">17,18 %</div>
<div class="t" style="left:397.00px;top:511.43px;width:300px;font-size:12.3px">6 363 €</div>
<div class="t" style="left:-67.50px;top:529.79px;width:300px;font-size:12.3px">60 ans</div>
<div class="t" style="left:-5.00px;top:529.79px;width:300px;font-size:12.3px">3 275 €</div>
<div class="t" style="left:69.00px;top:529.79px;width:300px;font-size:12.3px">11,79 %</div>
<div class="t" style="left:160.00px;top:529.79px;width:300px;font-size:12.3px">4 367 €</div>
<div class="t" style="left:248.00px;top:529.79px;width:300px;font-size:12.3px">4 854 €</div>
<div class="t" style="left:322.00px;top:529.79px;width:300px;font-size:12.3px">17,48 %</div>
<div class="t" style="left:397.00px;top:529.79px;width:300px;font-size:12.3px">6 472 €</div>
<div class="t" style="left:-67.50px;top:548.16px;width:300px;font-size:12.3px">61 ans</div>
<div class="t" style="left:-5.00px;top:548.16px;width:300px;font-size:12.3px">3 329 €</div>
<div class="t" style="left:69.00px;top:548.16px;width:300px;font-size:12.3px">11,99 %</div>
<div class="t" style="left:160.00px;top:548.16px;width:300px;font-size:12.3px">4 439 €</div>
<div class="t" style="left:248.00px;top:548.16px;width:300px;font-size:12.3px">4 933 €</div>
<div class="t" style="left:322.00px;top:548.16px;width:300px;font-size:12.3px">17,76 %</div>
<div class="t" style="left:397.00px;top:548.16px;width:300px;font-size:12.3px">6 578 €</div>
<div class="t" style="left:-67.50px;top:566.52px;width:300px;font-size:12.3px">62 ans</div>
<div class="t" style="left:-5.00px;top:566.52px;width:300px;font-size:12.3px">3 383 €</div>
<div class="t" style="left:69.00px;top:566.52px;width:300px;font-size:12.3px">12,18 %</div>
<div class="t" style="left:160.00px;top:566.52px;width:300px;font-size:12.3px">4 510 €</div>
<div class="t" style="left:248.00px;top:566.52px;width:300px;font-size:12.3px">5 013 €</div>
<div class="t" style="left:322.00px;top:566.52px;width:300px;font-size:12.3px">18,05 %</div>
<div class="t" style="left:397.00px;top:566.52px;width:300px;font-size:12.3px">6 684 €</div>
<div class="t" style="left:-67.50px;top:584.88px;width:300px;font-size:12.3px">63 ans</div>
<div class="t" style="left:-5.00px;top:584.88px;width:300px;font-size:12.3px">3 298 €</div>
<div class="t" style="left:69.00px;top:584.88px;width:300px;font-size:12.3px">11,87 %</div>
<div class="t" style="left:160.00px;top:584.88px;width:300px;font-size:12.3px">4 397 €</div>
<div class="t" style="left:248.00px;top:584.88px;width:300px;font-size:12.3px">4 888 €</div>
<div class="t" style="left:322.00px;top:584.88px;width:300px;font-size:12.3px">17,60 %</div>
<div class="t" style="left:397.00px;top:584.88px;width:300px;font-size:12.3px">6 517 €</div>
<div class="t" style="left:-67.50px;top:603.25px;width:300px;font-size:12.3px">64 ans</div>
<div class="t" style="left:-5.00px;top:603.25px;width:300px;font-size:12.3px">3 214 €</div>
<div class="t" style="left:69.00px;top:603.25px;width:300px;font-size:12.3px">11,57 %</div>
<div class="t" style="left:160.00px;top:603.25px;width:300px;font-size:12.3px">4 285 €</div>
<div class="t" style="left:248.00px;top:603.25px;width:300px;font-size:12.3px">4 762 €</div>
<div class="t" style="left:322.00px;top:603.25px;width:300px;font-size:12.3px">17,15 %</div>
<div class="t" style="left:397.00px;top:603.25px;width:300px;font-size:12.3px">6 350 €</div>
<div class="t" style="left:-67.50px;top:621.61px;width:300px;font-size:12.3px">65 ans</div>
<div class="t" style="left:-5.00px;top:621.61px;width:300px;font-size:12.3px">3 129 €</div>
<div class="t" style="left:69.00px;top:621.61px;width:300px;font-size:12.3px">11,27 %</div>
<div class="t" style="left:160.00px;top:621.61px;width:300px;font-size:12.3px">4 172 €</div>
<div class="t" style="left:248.00px;top:621.61px;width:300px;font-size:12.3px">4 637 €</div>
<div class="t" style="left:322.00px;top:621.61px;width:300px;font-size:12.3px">16,70 %</div>
<div class="t" style="left:397.00px;top:621.61px;width:300px;font-size:12.3px">6 183 €</div>
<div class="t" style="left:-67.50px;top:639.98px;width:300px;font-size:12.3px">66 ans</div>
<div class="t" style="left:-5.00px;top:639.98px;width:300px;font-size:12.3px">3 044 €</div>
<div class="t" style="left:69.00px;top:639.98px;width:300px;font-size:12.3px">10,96 %</div>
<div class="t" style="left:160.00px;top:639.98px;width:300px;font-size:12.3px">4 059 €</div>
<div class="t" style="left:248.00px;top:639.98px;width:300px;font-size:12.3px">4 512 €</div>
<div class="t" style="left:322.00px;top:639.98px;width:300px;font-size:12.3px">16,24 %</div>
<div class="t" style="left:397.00px;top:639.98px;width:300px;font-size:12.3px">6 015 €</div>
</div>
</body></html>
